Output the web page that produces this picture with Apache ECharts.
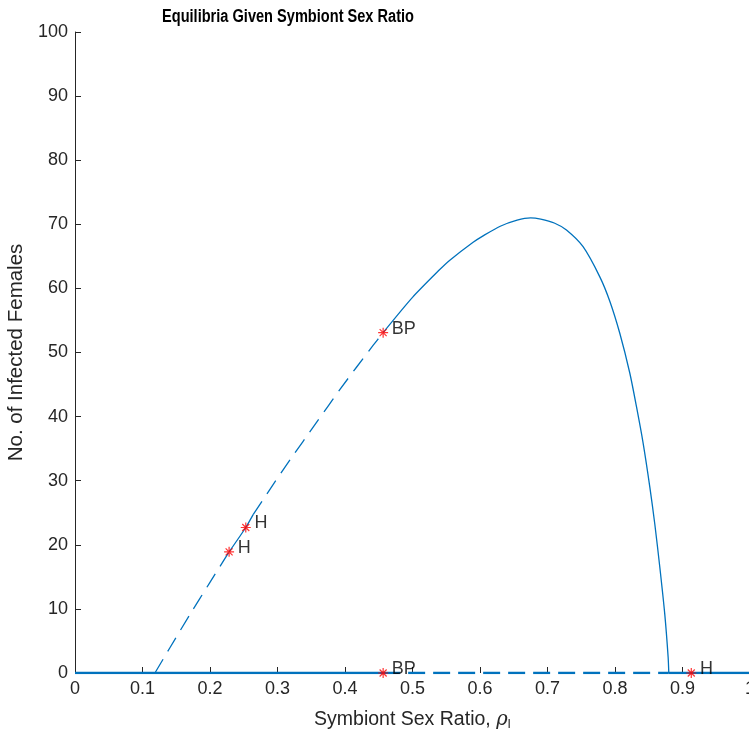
<!DOCTYPE html>
<html>
<head>
<meta charset="utf-8">
<script src="https://cdn.jsdelivr.net/npm/echarts@6/dist/echarts.min.js"></script>
<style>
  html, body { margin: 0; padding: 0; background: #fff; }
  #chart { width: 749px; height: 734px; }
</style>
</head>
<body>
<div id="chart"></div>
<script>
// Nonzero equilibrium branch: infected females vs symbiont sex ratio
const rho = [0.1184, 0.1404, 0.1701, 0.1997, 0.2283, 0.2530, 0.2639, 0.2935, 0.3182,
             0.3578, 0.3923, 0.4170, 0.4416, 0.4565, 0.5000, 0.5400, 0.5553, 0.5898,
             0.6046, 0.6300, 0.6550, 0.6750, 0.6900, 0.7100, 0.7281, 0.7527, 0.7775,
             0.7923, 0.8071, 0.8219, 0.8319, 0.8416, 0.8516, 0.8590, 0.8664, 0.8738,
             0.8787, 0.8797];
const females = [0, 3.9, 9.1, 14.1, 18.9, 22.7, 24.7, 29.4, 33.2,
                 39.1, 44.2, 47.7, 51.1, 53.1, 58.6, 62.9, 64.4, 67.2,
                 68.2, 69.7, 70.65, 71.0, 70.8, 70.2, 69.1, 66.5, 61.8,
                 58.0, 53.0, 46.8, 41.5, 35.9, 29.0, 23.2, 16.5, 9.1,
                 2.5, 0];

// Stability changes along the nonzero branch (true = stable)
const branchBreaks = [0.2283, 0.2639, 0.4565];
const branchStable = [false, true, false, true];

// Trivial equilibrium (no infected females) over the full rho range
const zeroRange = [0, 1];
const zeroBreaks = [0.4565, 0.8797];
const zeroStable = [true, false, true];

// Labelled bifurcation points
const pointRho = [0.2283, 0.2530, 0.4565, 0.4565, 0.913];
const pointFemales = [18.9, 22.7, 53.1, 0, 0];
const pointLabel = ['H', 'H', 'BP', 'BP', 'H'];

// Axis ticks
const xMin = 0, xMax = 1, xStep = 0.1;
const yMin = 0, yMax = 100, yStep = 10;

const lineColor = '#0072BD';
const textColor = '#262626';
const font = 'Arial, "Liberation Sans", Helvetica, sans-serif';

function branchPieces() {
  const edges = [rho[0], ...branchBreaks, rho[rho.length - 1]];
  const out = [];
  for (let s = 0; s < edges.length - 1; s++) {
    const lo = edges[s], hi = edges[s + 1];
    const data = [];
    for (let i = 0; i < rho.length; i++) {
      if (rho[i] >= lo - 1e-9 && rho[i] <= hi + 1e-9) data.push([rho[i], females[i]]);
    }
    out.push({ data, stable: branchStable[s] });
  }
  return out;
}

function zeroPieces() {
  const edges = [zeroRange[0], ...zeroBreaks, zeroRange[1]];
  const out = [];
  for (let s = 0; s < edges.length - 1; s++) {
    out.push({ data: [[edges[s], 0], [edges[s + 1], 0]], stable: zeroStable[s] });
  }
  return out;
}

const series = [];
zeroPieces().forEach(p => series.push({
  type: 'line', data: p.data, symbol: 'none', silent: true, z: 3,
  lineStyle: { color: lineColor, width: 2.5, type: p.stable ? 'solid' : [17, 8] }
}));
branchPieces().forEach(p => series.push({
  type: 'line', data: p.data, symbol: 'none', silent: true, z: 3, smooth: 0.25,
  lineStyle: { color: lineColor, width: 1.3, type: p.stable ? 'solid' : [16, 9] }
}));

// Asterisk marker drawn as stroked spokes
const asterisk = 'path://M0 5L10 5M5 0L5 10M1.5 1.5L8.5 8.5M1.5 8.5L8.5 1.5';
series.push({
  type: 'scatter',
  data: pointRho.map((r, i) => ({ value: [r, pointFemales[i]], name: pointLabel[i] })),
  symbol: asterisk,
  symbolSize: 10,
  z: 5,
  itemStyle: { color: '#FF0000', borderColor: '#FF0000', borderWidth: 1.2 },
  label: {
    show: true, position: 'right', distance: 3, offset: [0, -4],
    formatter: p => p.name,
    color: '#000', fontSize: 18, fontFamily: font
  }
});

const chart = echarts.init(document.getElementById('chart'), null, { renderer: 'canvas' });
chart.setOption({
  animation: false,
  backgroundColor: '#fff',
  grid: { left: 75, top: 32, width: 675, height: 641, containLabel: false, outerBoundsMode: 'none' },
  graphic: [{
    type: 'text', x: 288, y: 17, scaleX: 0.81,
    style: {
      text: 'Equilibria Given Symbiont Sex Ratio',
      x: 0, y: 0, align: 'center', verticalAlign: 'middle',
      fill: '#000', fontWeight: 'bold', fontSize: 18,
      fontFamily: font
    }
  }],
  xAxis: {
    type: 'value', min: xMin, max: xMax, interval: xStep,
    name: 'Symbiont Sex Ratio, {i|ρ}{s|I}',
    nameLocation: 'middle', nameGap: 36,
    nameTextStyle: {
      color: textColor, fontSize: 19.5, fontFamily: font,
      rich: {
        i: { fontStyle: 'italic', fontSize: 19.5, fontFamily: '"DejaVu Serif", serif', color: textColor },
        s: { fontSize: 12, fontFamily: font, color: textColor, padding: [10, 0, 0, 0] }
      }
    },
    axisLine: { show: false },
    axisTick: { show: true, inside: true, length: 6, lineStyle: { color: textColor } },
    axisLabel: {
      color: textColor, fontSize: 18, fontFamily: font, margin: 7,
      formatter: v => String(+v.toFixed(1))
    },
    splitLine: { show: false }
  },
  yAxis: {
    type: 'value', min: yMin, max: yMax, interval: yStep,
    name: 'No. of Infected Females',
    nameLocation: 'middle', nameGap: 44,
    nameTextStyle: { color: textColor, fontSize: 20.5, fontFamily: font },
    axisLine: { show: true, lineStyle: { color: textColor, width: 1 } },
    axisTick: { show: true, inside: true, length: 6, lineStyle: { color: textColor } },
    axisLabel: { color: textColor, fontSize: 18, fontFamily: font, margin: 7 },
    splitLine: { show: false }
  },
  series
});
</script>
</body>
</html>
